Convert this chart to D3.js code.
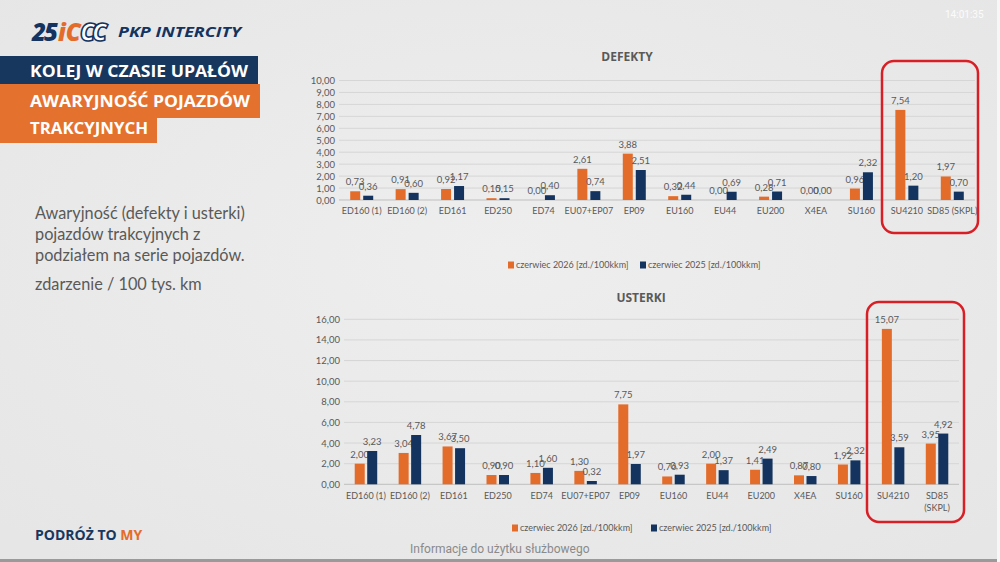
<!DOCTYPE html>
<html>
<head>
<meta charset="utf-8">
<script src="https://cdn.jsdelivr.net/npm/d3@7"></script>
<style>
body { margin: 0; background: #e9e9e9; }
svg { display: block; }
</style>
</head>
<body>
<script>
// dane
var categories = ["ED160 (1)", "ED160 (2)", "ED161", "ED250", "ED74", "EU07+EP07", "EP09",
                  "EU160", "EU44", "EU200", "X4EA", "SU160", "SU4210", "SD85 (SKPL)"];
var seriesNames = ["czerwiec 2026 [zd./100kkm]", "czerwiec 2025 [zd./100kkm]"];

var defekty2026 = [0.73, 0.91, 0.92, 0.15, 0.00, 2.61, 3.88, 0.32, 0.00, 0.28, 0.00, 0.96, 7.54, 1.97];
var defekty2025 = [0.36, 0.60, 1.17, 0.15, 0.40, 0.74, 2.51, 0.44, 0.69, 0.71, 0.00, 2.32, 1.20, 0.70];

var usterki2026 = [2.00, 3.04, 3.67, 0.90, 1.10, 1.30, 7.75, 0.76, 2.00, 1.41, 0.87, 1.92, 15.07, 3.95];
var usterki2025 = [3.23, 4.78, 3.50, 0.90, 1.60, 0.32, 1.97, 0.93, 1.37, 2.49, 0.80, 2.32, 3.59, 4.92];

var defektyTicks = [0, 1, 2, 3, 4, 5, 6, 7, 8, 9, 10];
var usterkiTicks = [0, 2, 4, 6, 8, 10, 12, 14, 16];

var width = 1000, height = 562;
var orange = "#E46C2B", navy = "#14335E", grey = "#595959";
var fmt = function(v) { return v.toFixed(2).replace(".", ","); };

var svg = d3.select("body").append("svg")
    .attr("width", width)
    .attr("height", height);

// tlo
var grad = svg.append("defs").append("radialGradient")
    .attr("id", "bg").attr("cx", "50%").attr("cy", "45%").attr("r", "70%");
grad.append("stop").attr("offset", "0%").attr("stop-color", "#eeeeee");
grad.append("stop").attr("offset", "100%").attr("stop-color", "#e6e6e6");
svg.append("rect").attr("width", width).attr("height", height).attr("fill", "url(#bg)");
svg.append("rect").attr("x", 0).attr("y", 559).attr("width", width).attr("height", 3).attr("fill", "#9a9a9a");
svg.append("rect").attr("x", 997).attr("y", 0).attr("width", 3).attr("height", height).attr("fill", "#f7f7f7");

// logo
var logo = svg.append("g").style("font-family", "'Open Sans', sans-serif")
    .style("font-weight", 800).style("font-style", "italic");
logo.append("text").attr("x", 32).attr("y", 41).attr("font-size", 24).attr("fill", navy)
    .attr("letter-spacing", -2).text("25");
logo.append("text").attr("x", 58).attr("y", 41).attr("font-size", 24).attr("fill", orange).text("iC");
logo.append("text").attr("x", 80).attr("y", 41).attr("font-size", 24).attr("fill", "#ffffff")
    .attr("stroke", navy).attr("stroke-width", 1.6).attr("letter-spacing", -3).text("CC");
logo.append("text").attr("x", 118).attr("y", 37).attr("font-size", 15).attr("fill", navy)
    .attr("textLength", 123).attr("lengthAdjust", "spacingAndGlyphs")
    .style("font-weight", 700).text("PKP INTERCITY");

// naglowki
svg.append("rect").attr("x", 0).attr("y", 56).attr("width", 258).attr("height", 28).attr("fill", "#17375E");
svg.append("rect").attr("x", 0).attr("y", 84).attr("width", 260).attr("height", 34).attr("fill", "#E5712F");
svg.append("rect").attr("x", 0).attr("y", 117).attr("width", 157).attr("height", 26).attr("fill", "#E5712F");
var head = svg.append("g").style("font-family", "'Open Sans', sans-serif")
    .style("font-weight", 700).attr("fill", "#ffffff").attr("font-size", 16.5);
head.append("text").attr("x", 30).attr("y", 77).attr("textLength", 218).attr("lengthAdjust", "spacingAndGlyphs")
    .text("KOLEJ W CZASIE UPAŁÓW");
head.append("text").attr("x", 30).attr("y", 107).attr("textLength", 220).attr("lengthAdjust", "spacingAndGlyphs")
    .text("AWARYJNOŚĆ POJAZDÓW");
head.append("text").attr("x", 30).attr("y", 134).attr("textLength", 118).attr("lengthAdjust", "spacingAndGlyphs")
    .text("TRAKCYJNYCH");

// opis
var desc = svg.append("g").style("font-family", "Lato, sans-serif").attr("font-size", 16.3).attr("fill", grey);
desc.append("text").attr("x", 35).attr("y", 219).text("Awaryjność (defekty i usterki)");
desc.append("text").attr("x", 35).attr("y", 240).text("pojazdów trakcyjnych z");
desc.append("text").attr("x", 35).attr("y", 261).text("podziałem na serie pojazdów.");
desc.append("text").attr("x", 35).attr("y", 290).text("zdarzenie / 100 tys. km");

// stopka
var foot = svg.append("text").attr("x", 35).attr("y", 540)
    .style("font-family", "'Open Sans', sans-serif").style("font-weight", 700).attr("font-size", 14);
foot.append("tspan").attr("fill", "#17375E").text("PODRÓŻ TO ");
foot.append("tspan").attr("fill", orange).text("MY");
svg.append("text").attr("x", 410).attr("y", 553).style("font-family", "Roboto, sans-serif")
    .attr("font-size", 12).attr("fill", "#8a8a8a").text("Informacje do użytku służbowego");
svg.append("text").attr("x", 945).attr("y", 18).style("font-family", "Roboto, sans-serif")
    .attr("font-size", 10).attr("fill", "#fbfbfb").text("14:01:35");

function drawChart(o) {
    var g = svg.append("g").style("font-family", "Lato, sans-serif");

    var x = d3.scaleBand().domain(categories).range([o.left, o.right]);
    var inner = d3.scaleBand().domain([0, 1]).range([0, 2 * o.barW + o.gap]).paddingInner(o.gap / (o.barW + o.gap));
    var y = d3.scaleLinear().domain([0, o.ticks[o.ticks.length - 1]]).range([o.bottom, o.top]);

    // siatka
    g.append("g").selectAll("line").data(o.ticks).join("line")
        .attr("x1", o.left).attr("x2", o.right)
        .attr("y1", function(d) { return y(d); }).attr("y2", function(d) { return y(d); })
        .attr("stroke", function(d) { return d === 0 ? "#bfbfbf" : "#d6d6d6"; })
        .attr("stroke-width", 1);

    var yAxis = d3.axisLeft(y).tickValues(o.ticks).tickFormat(fmt).tickSize(0).tickPadding(4);
    g.append("g").attr("transform", "translate(" + o.left + ",0)").call(yAxis)
        .call(function(a) { a.select(".domain").remove(); })
        .selectAll("text").attr("fill", grey).attr("font-size", 9.5).style("font-family", "Lato, sans-serif");

    var xAxis = d3.axisBottom(x).tickSize(0).tickPadding(o.labelPad);
    var xg = g.append("g").attr("transform", "translate(0," + o.bottom + ")").call(xAxis);
    xg.select(".domain").remove();
    xg.selectAll("text").attr("fill", grey).attr("font-size", 9).style("font-family", "Lato, sans-serif")
        .each(function(d) {
            if (o.wrap && d.length > 10) {
                var t = d3.select(this), parts = d.split(" ");
                t.text(null);
                t.append("tspan").attr("x", 0).text(parts[0]);
                t.append("tspan").attr("x", 0).attr("dy", "1.4em").text(parts[1]);
            }
        });

    var series = [o.v26, o.v25];
    var colors = [orange, navy];
    series.forEach(function(vals, s) {
        var bx = function(d, i) {
            return x(categories[i]) + x.bandwidth() / 2 - inner.range()[1] / 2 + inner(s);
        };
        g.append("g").selectAll("rect").data(vals).join("rect")
            .attr("x", bx)
            .attr("y", function(d) { return y(d); })
            .attr("width", inner.bandwidth())
            .attr("height", function(d) { return y(0) - y(d); })
            .attr("fill", colors[s]);
        g.append("g").selectAll("text").data(vals).join("text")
            .attr("x", function(d, i) { return bx(d, i) + inner.bandwidth() / 2; })
            .attr("y", function(d) { return y(d) - o.lblOff; })
            .attr("text-anchor", "middle")
            .attr("font-size", 9.5).attr("fill", grey)
            .text(fmt);
    });

    g.append("text").attr("x", o.titleX).attr("y", o.titleY).attr("text-anchor", "middle")
        .style("font-family", "'Open Sans', sans-serif").style("font-weight", 700)
        .attr("font-size", 12).attr("fill", grey).text(o.title);

    // legenda
    var leg = g.append("g").selectAll("g").data(seriesNames).join("g")
        .attr("transform", function(d, i) { return "translate(" + o.legX[i] + "," + o.legY + ")"; });
    leg.append("rect").attr("x", 0).attr("y", -3.5).attr("width", 6).attr("height", 7)
        .attr("fill", function(d, i) { return colors[i]; });
    leg.append("text").attr("x", 8).attr("y", 3.2).attr("font-size", 9).attr("fill", grey)
        .text(function(d) { return d; });

    // ramka
    g.append("rect").attr("x", o.box[0]).attr("y", o.box[1]).attr("width", o.box[2]).attr("height", o.box[3])
        .attr("rx", 12).attr("fill", "none").attr("stroke", "#D91F26").attr("stroke-width", 2.5);
}

drawChart({
    title: "DEFEKTY", titleX: 627, titleY: 61,
    v26: defekty2026, v25: defekty2025, ticks: defektyTicks,
    left: 339, right: 975, top: 80.5, bottom: 200,
    barW: 10, gap: 3, lblOff: 6, labelPad: 8, wrap: false,
    legX: [508, 640], legY: 265,
    box: [882, 61, 96, 172]
});

drawChart({
    title: "USTERKI", titleX: 641, titleY: 302,
    v26: usterki2026, v25: usterki2025, ticks: usterkiTicks,
    left: 344, right: 959, top: 319.3, bottom: 484.3,
    barW: 10, gap: 2.5, lblOff: 6, labelPad: 8, wrap: true,
    legX: [512, 651], legY: 528,
    box: [867, 302, 97, 220]
});
</script>
</body>
</html>
